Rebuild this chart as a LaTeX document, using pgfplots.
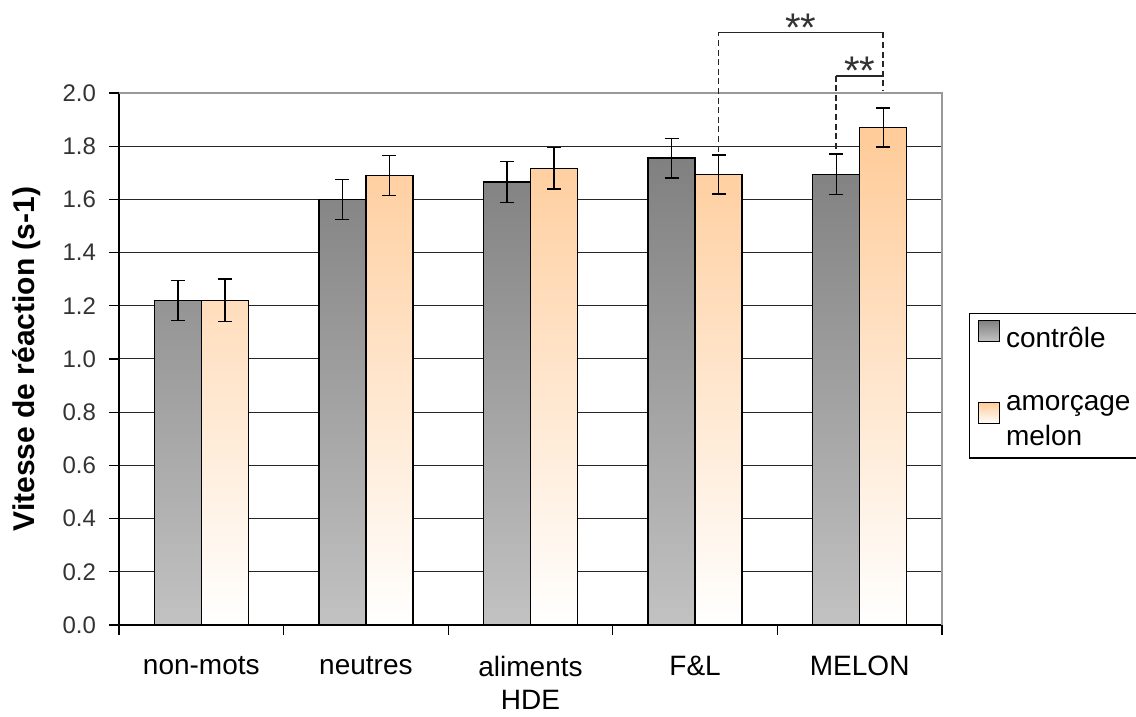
\documentclass[border=0pt]{standalone}
\usepackage{pgfplots}
\pgfplotsset{compat=1.18}
\usepackage{fontspec}
\setmainfont{Liberation Sans}
\definecolor{gtop}{RGB}{128,128,128}
\definecolor{gbot}{RGB}{194,194,194}
\definecolor{otop}{RGB}{255,203,152}
\begin{document}
\begin{tikzpicture}
\path[use as bounding box] (0,0) rectangle (568pt,358.5pt);
\begin{axis}[
  at={(59.5pt,46pt)}, anchor=south west,
  scale only axis, width=411.5pt, height=266pt,
  ybar=0pt, bar width=23.5pt,
  xmin=-0.5, xmax=4.5, ymin=0, ymax=2,
  clip=false,
  axis x line*=bottom, axis y line*=left,
  axis line style={black, line width=0.6pt, -},
  tick align=outside, major tick length=5pt,
  tick style={black, line width=0.6pt},
  xtick={-0.5,0.5,...,4.5}, xticklabels={},
  extra x ticks={0,1,2,3,4},
  extra x tick labels={non-mots,neutres,{aliments\\HDE},F\&L,MELON},
  extra x tick style={major tick length=0pt,
     tick label style={align=center, font=\fontsize{14}{16.5}\selectfont, yshift=-12pt}},
  ytick={0,0.2,...,2.01},
  yticklabel style={/pgf/number format/fixed, /pgf/number format/fixed zerofill, /pgf/number format/precision=1, /pgf/number format/assume math mode=true, font=\fontsize{12}{14}\selectfont, text=black!80, xshift=-3pt},
  ymajorgrids, grid style={black!85, line width=0.5pt},
  ylabel={Vitesse de réaction (s-1)},
  ylabel style={at={(axis description cs:-0.1118,0.5)}, anchor=center, font=\fontsize{15}{18}\selectfont\bfseries},
  legend style={at={(axis description cs:1.0328,0.5865)}, anchor=north west, draw=black, line width=0.6pt,
     font=\fontsize{14}{17.5}\selectfont, row sep=18pt, column sep=1pt, nodes={align=left}, inner xsep=4pt, inner ysep=3pt},
  legend cell align=left,
  legend image code/.code={\draw[#1, draw=black, line width=0.7pt] (0pt,-1pt) rectangle (10.5pt,9.5pt);},
]
\addplot[top color=gtop, bottom color=gbot, draw=black, line width=0.75pt,
  error bars/.cd, y dir=both, y explicit,
  error bar style={black, line width=0.7pt},
  error mark options={black, line width=0.7pt, mark size=3.5pt, rotate=90}]
  coordinates {(0,1.22) +- (0,0.075) (1,1.60) +- (0,0.075) (2,1.665) +- (0,0.077) (3,1.755) +- (0,0.075) (4,1.694) +- (0,0.076)};
\addplot[top color=otop, bottom color=white, draw=black, line width=0.75pt,
  error bars/.cd, y dir=both, y explicit,
  error bar style={black, line width=0.7pt},
  error mark options={black, line width=0.7pt, mark size=3.5pt, rotate=90}]
  coordinates {(0,1.22) +- (0,0.08) (1,1.69) +- (0,0.075) (2,1.717) +- (0,0.078) (3,1.694) +- (0,0.073) (4,1.87) +- (0,0.073)};
\addlegendentry{contrôle}
\addlegendentry{amorçage\\melon}
\draw[black!40, line width=0.6pt] (axis cs:-0.5,2) -- (axis cs:4.5,2) -- (axis cs:4.5,0);
% significance brackets
\draw[black!85, line width=0.8pt, dash pattern=on 3pt off 1.8pt] (axis cs:3.143,1.78) -- (axis cs:3.143,2.228);
\draw[black!85, line width=0.8pt] (axis cs:3.143,2.228) -- (axis cs:4.143,2.228);
\draw[black!85, line width=0.8pt, dash pattern=on 3pt off 1.8pt] (axis cs:4.143,2.228) -- (axis cs:4.143,2.01);
\draw[black!85, line width=0.8pt, dash pattern=on 3pt off 1.8pt] (axis cs:3.857,1.79) -- (axis cs:3.857,2.064);
\draw[black!85, line width=0.8pt] (axis cs:3.857,2.064) -- (axis cs:4.143,2.064);
\node[anchor=base, inner sep=0pt, font=\fontsize{20}{20}\selectfont, text=black!80] at ([yshift=-4.5pt]axis cs:3.643,2.228) {**};
\node[anchor=base, inner sep=0pt, font=\fontsize{20}{20}\selectfont, text=black!80] at ([yshift=-4.5pt]axis cs:4.0,2.064) {**};
\end{axis}
\end{tikzpicture}
\end{document}
